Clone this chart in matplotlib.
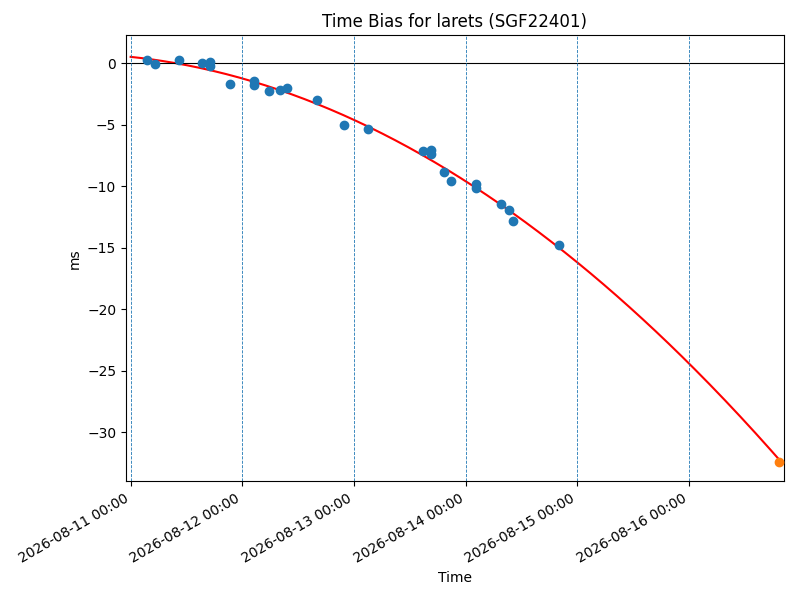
import numpy as np
import pandas as pd
import matplotlib
matplotlib.use("Agg")
import matplotlib.pyplot as plt
import matplotlib.dates as mdates

obs_times = [
    "2026-08-11 03:25", "2026-08-11 05:10", "2026-08-11 10:20", "2026-08-11 15:15",
    "2026-08-11 17:00", "2026-08-11 17:00", "2026-08-11 21:15", "2026-08-12 02:25",
    "2026-08-12 02:25", "2026-08-12 05:40", "2026-08-12 08:10", "2026-08-12 09:35",
    "2026-08-12 16:00", "2026-08-12 21:48", "2026-08-13 02:57", "2026-08-13 14:53",
    "2026-08-13 16:34", "2026-08-13 16:34", "2026-08-13 19:26", "2026-08-13 20:53",
    "2026-08-14 02:10", "2026-08-14 02:10", "2026-08-14 07:41", "2026-08-14 09:22",
    "2026-08-14 10:05", "2026-08-14 20:10",
]
obs_bias = [
    0.24, -0.08, 0.24, 0.0,
    0.08, -0.24, -1.65, -1.46,
    -1.79, -2.28, -2.2, -2.03,
    -2.95, -4.98, -5.31, -7.15,
    -7.07, -7.35, -8.8, -9.57,
    -9.84, -10.1, -11.46, -11.95,
    -12.85, -14.8,
]
fit_start = "2026-08-11 00:00"
pred_time = "2026-08-16 19:26"
pred_bias = -32.4

t = pd.to_datetime(obs_times)
t0 = pd.Timestamp(fit_start)
tp = pd.Timestamp(pred_time)
hours = (t - t0) / pd.Timedelta(hours=1)

# quadratic fit of the observations, drawn out to the predicted point
coef = np.polyfit(hours, obs_bias, 2)
grid = pd.date_range(t0, tp, periods=300)
grid_h = (grid - t0) / pd.Timedelta(hours=1)
fit = np.polyval(coef, grid_h)

fig, ax = plt.subplots(figsize=(8, 6), dpi=100)
ax.plot(grid, fit, color="red")
ax.scatter(t, obs_bias, color="C0", zorder=3)
ax.scatter([tp], [pred_bias], color="C1", zorder=3)
ax.axhline(0, color="black", linewidth=0.8)
for d in pd.date_range(t0, tp, freq="D"):
    ax.axvline(d, color="C0", linestyle="--", linewidth=0.6)

ax.set_xlim(t0 - pd.Timedelta(hours=1), tp + pd.Timedelta(hours=1))
ax.set_ylim(-34.0, 2.28)
ax.xaxis.set_major_locator(mdates.DayLocator())
ax.xaxis.set_major_formatter(mdates.DateFormatter("%Y-%m-%d %H:%M"))
ax.set_title("Time Bias for larets (SGF22401)")
ax.set_xlabel("Time")
ax.set_ylabel("ms")
fig.autofmt_xdate()
fig.subplots_adjust(left=0.1575, right=0.98, top=0.941, bottom=0.198)
fig.savefig("out.png")
